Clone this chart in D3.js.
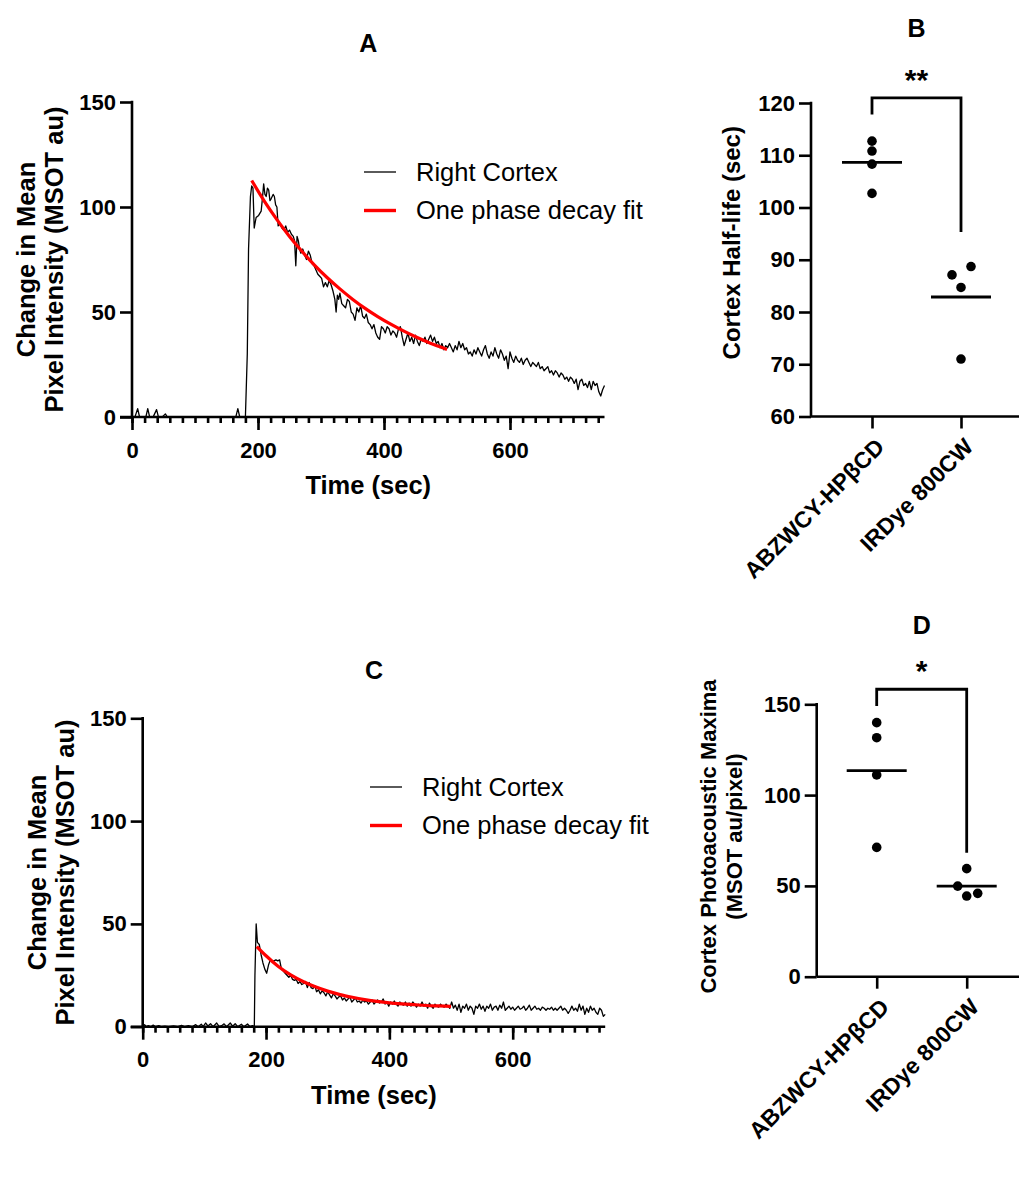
<!DOCTYPE html>
<html>
<head>
<meta charset="utf-8">
<script src="https://cdn.jsdelivr.net/npm/d3@7"></script>
<style>
  body { margin: 0; background: #fff; }
  svg { font-family: "Liberation Sans", Arial, sans-serif; }
</style>
</head>
<body>
<div id="chart"></div>
<script>
// ---- data ----
const timeTicks = [0, 200, 400, 600];
const traceTicksY = [0, 50, 100, 150];
const groups = ["ABZWCY-HPβCD", "IRDye 800CW"];

// Panel A: right cortex trace [time (s), change in intensity]
const cortexA = [[0,0],[5,0.3],[9,4],[12,0],[17,0.2],[22,0],[25,4],[28,0],[34,0.3],[39,3.5],[42,0],[48,0],[53,1.5],[56,0],[65,0],[80,0],[100,0],[120,0],[140,0],[160,0],[165,0.3],[168,4],[171,0],[176,0],[180,0],
  [183,30],[185,80],[188,105],[190,110],[192,109],[194,90],[197,95],[201,96],[205,98],[207,104],[209,111],[211,106],[213,105],[215,109],[217,108],[219,103],[221,104],[224,106],[226,105],[228,101],[230,100],[232,91],[235,92],[238,90],[241,89],[244,91],[247,88],[250,89],[253,87],[256,86],[258,84],[260,72],[262,86],[264,84],[266,80],[268,78],[271,80],[274,77],[277,75],[280,79],[283,77],[286,73],[289,72],[292,70],[295,68],[298,67],[301,66],[304,62],[307,64],[310,62],[313,65],[316,63],[319,60],[322,56],[324,50],[326,58],[328,56],[330,59],[333,54],[336,53],[339,52],[342,56],[345,55],[348,50],[351,49],[354,46],[357,52],[360,50],[363,53],[366,48],[369,47],[372,49],[375,45],[378,44],[381,42],[384,44],[387,40],[390,38],[393,37],[396,43],[399,42],[402,40],[405,43],[408,42],[411,39],[414,41],[417,40],[420,38],[423,42],[426,43],[429,38],[432,34],[435,37],[438,40],[441,36],[444,38],[447,35],[450,39],[453,36],[456,34],[459,37],[462,36],[465,38],[468,35],[471,37],[474,39],[477,36],[480,38],[483,35],[486,36],[489,33],[492,35],[495,32],[498,34],[501,33],[504,35],[507,33],[510,31],[513,34],[516,32],[519,36],[522,33],[525,35],[528,32],[531,33],[534,30],[537,31],[540,29],[543,32],[546,30],[549,33],[552,31],[555,29],[558,32],[561,34],[564,30],[567,28],[570,31],[573,29],[576,33],[579,30],[582,28],[585,32],[588,30],[591,27],[594,29],[597,23],[600,31],[603,28],[606,26],[609,29],[612,27],[615,26],[618,28],[621,25],[624,27],[627,28],[630,26],[633,24],[636,26],[639,25],[642,24],[645,26],[648,23],[651,24],[654,22],[657,23],[660,24],[663,21],[666,22],[669,20],[672,22],[675,21],[678,19],[681,21],[684,20],[687,18],[690,19],[693,17],[696,19],[699,18],[702,16],[705,18],[708,13],[711,17],[714,18],[717,15],[720,16],[723,14],[726,17],[729,13],[732,17],[735,15],[738,16],[741,12],[744,10],[747,13],[750,15]];

// Panel A: one phase decay fit
const fitA = [[190,112.6],[210,102.8],[230,94.0],[250,86.0],[270,78.8],[290,72.2],[310,66.3],[330,61.0],[350,56.1],[370,51.7],[390,47.8],[410,44.3],[430,41.1],[450,38.2],[470,35.6],[490,33.3],[500,32.2]];

// Panel C: right cortex trace
const cortexC = [[0,0],[3,1],[6,0],[9,0.5],[13,0],[17,0.8],[21,0],[26,0.5],[30,0],[36,0.3],[42,0],[50,0.4],[57,0],[63,0.6],[68,0],[74,0.5],[80,0],[86,1],[90,0],[95,1.2],[98,0],[102,1.8],[106,0.3],[110,1.5],[114,0],[120,1.8],[124,0],[128,0.5],[132,1.4],[136,0],[142,1.8],[146,0.2],[150,1.5],[154,0],[160,1.2],[164,0],[170,1.3],[174,0],[178,0.5],[181,0],
  [182,25],[184,50],[186,41],[189,40],[192,35],[195,31],[198,28],[201,26],[204,30],[207,32.5],[210,32],[213,32],[216,32.5],[219,32],[222,32.5],[225,28],[228,27],[231,26],[234,25],[237,24],[240,25],[243,23],[246,22.5],[249,23],[252,21],[255,22],[258,20.5],[261,21],[264,22],[267,19],[270,21.5],[273,19],[276,18.5],[279,20],[282,17],[285,18],[288,16],[291,17.5],[294,16.5],[297,15],[300,17],[303,15.5],[306,14],[309,16],[312,15],[315,13.5],[318,14.5],[321,15],[324,13],[327,14],[330,12.5],[333,13.5],[336,14.5],[339,12],[342,13],[345,14],[348,12],[351,12.5],[354,11.5],[357,13],[360,12],[363,12.5],[366,11],[369,12],[372,13],[375,11],[378,12],[381,13],[384,11.5],[387,12],[390,13.5],[393,11],[396,12],[399,10],[402,12],[405,11],[408,12.5],[411,11],[414,10],[417,12],[420,11],[423,10.5],[426,12],[429,10],[432,11.5],[435,10],[438,12],[441,11],[444,9.5],[447,11],[450,10],[453,12],[456,10],[459,11],[462,9],[465,11.5],[468,10],[471,9],[474,11],[477,10],[480,9.5],[483,11],[486,10],[489,9.5],[492,11],[495,10],[498,9],[501,12],[504,9],[507,10.5],[510,8],[513,11],[516,7],[519,10],[522,9],[525,11],[528,8],[531,10],[534,9],[537,6],[540,10],[543,9],[546,11],[549,8.5],[552,10],[555,7.5],[558,10],[561,9],[564,11],[567,8],[570,9.5],[573,10],[576,8],[579,10.5],[582,9],[585,12],[588,8],[591,9],[594,10],[597,8.5],[600,9.5],[603,8],[606,9],[609,10],[612,8.5],[615,9],[618,10],[621,8],[624,9],[627,10.5],[630,8],[633,9],[636,10],[639,8.5],[642,9],[645,8],[648,9.5],[651,9],[654,8],[657,9],[660,8.5],[663,9.5],[666,8],[669,9],[672,8],[675,9],[678,10],[681,8],[684,9],[687,8],[690,6.5],[693,8],[696,10],[699,8],[702,9],[705,7.5],[708,11],[711,8],[714,10],[717,6],[720,9],[723,7],[726,10],[729,8],[732,9],[735,7],[738,6],[741,9],[744,8],[747,5],[750,6]];

// Panel C: one phase decay fit
const fitC = [[185,39],[200,34.5],[220,29.3],[240,25.2],[260,22],[280,19.4],[300,17.3],[320,15.6],[340,14.3],[360,13.2],[380,12.3],[400,11.6],[420,11.1],[440,10.7],[460,10.3],[480,10.1],[500,9.9]];

// Panel B: cortex half-life (sec), one list per group
const halfLifeABZ = [112.7, 110.8, 108.3, 102.7];
const halfLifeIRD = [87.1, 88.7, 84.7, 71.0];

// Panel D: cortex photoacoustic maxima (MSOT au/pixel)
const maximaABZ = [139.9, 131.6, 111.1, 71.2];
const maximaIRD = [59.5, 49.9, 44.4, 45.9];

// ---- drawing ----
const svg = d3.select('#chart').append('svg')
    .attr('width', 1019)
    .attr('height', 1203);

const axisWidth = 2.6;

function styleAxis(g) {
  g.select('.domain').remove();
  g.selectAll('.tick line').attr('stroke', '#000').attr('stroke-width', axisWidth);
  g.selectAll('.tick text').attr('fill', '#000')
      .style('font-size', '22px').style('font-weight', 'bold');
}

function tracePanel(cfg, trace, fit) {
  const x = d3.scaleLinear().domain([0, 750]).range([cfg.left, cfg.right]);
  const y = d3.scaleLinear().domain([0, 150]).range([cfg.bottom, cfg.top]);
  const g = svg.append('g');

  // data lines
  const line = d3.line().x(d => x(d[0])).y(d => y(d[1]));
  g.append('path').datum(trace)
      .attr('d', line)
      .attr('fill', 'none')
      .attr('stroke', '#000')
      .attr('stroke-width', 1.3)
      .attr('stroke-linejoin', 'round');
  g.append('path').datum(fit)
      .attr('d', line.curve(d3.curveMonotoneX))
      .attr('fill', 'none')
      .attr('stroke', '#ff0000')
      .attr('stroke-width', 3.2);

  // minor x ticks every 20 s
  g.append('g')
      .attr('transform', `translate(0,${cfg.bottom})`)
      .call(d3.axisBottom(x).tickValues(d3.range(0, 750, 20)).tickSize(6).tickFormat(''))
      .call(styleAxis);
  // major x ticks
  g.append('g')
      .attr('transform', `translate(0,${cfg.bottom})`)
      .call(d3.axisBottom(x).tickValues(timeTicks).tickSize(13).tickPadding(12))
      .call(styleAxis);
  // y axis
  g.append('g')
      .attr('transform', `translate(${cfg.left},0)`)
      .call(d3.axisLeft(y).tickValues(traceTicksY).tickSize(12).tickPadding(4))
      .call(styleAxis);

  // axis lines
  g.append('line')
      .attr('x1', x(0) - 12).attr('x2', x(750))
      .attr('y1', y(0)).attr('y2', y(0))
      .attr('stroke', '#000').attr('stroke-width', axisWidth);
  g.append('line')
      .attr('x1', x(0)).attr('x2', x(0))
      .attr('y1', y(150) - axisWidth / 2).attr('y2', y(0))
      .attr('stroke', '#000').attr('stroke-width', axisWidth);

  // titles
  const midX = (cfg.left + cfg.right) / 2;
  const midY = (cfg.top + cfg.bottom) / 2;
  g.append('text')
      .attr('x', midX).attr('y', cfg.titleY)
      .attr('text-anchor', 'middle')
      .style('font-size', '25px').style('font-weight', 'bold')
      .text(cfg.title);
  g.append('text')
      .attr('x', midX).attr('y', cfg.bottom + 77)
      .attr('text-anchor', 'middle')
      .style('font-size', '25.5px').style('font-weight', 'bold')
      .text('Time (sec)');
  ['Change in Mean', 'Pixel Intensity (MSOT au)'].forEach((t, i) => {
    g.append('text')
        .attr('transform', `translate(${cfg.left - 97 + i * 28},${midY}) rotate(-90)`)
        .attr('text-anchor', 'middle')
        .style('font-size', '25.5px').style('font-weight', 'bold')
        .text(t);
  });

  // legend
  const legend = [
    {label: 'Right Cortex', color: '#000', width: 1.3},
    {label: 'One phase decay fit', color: '#ff0000', width: 3.4}
  ];
  legend.forEach((d, i) => {
    const ly = cfg.legendY + i * 38.5;
    g.append('line')
        .attr('x1', cfg.legendX).attr('x2', cfg.legendX + 32)
        .attr('y1', ly).attr('y2', ly)
        .attr('stroke', d.color).attr('stroke-width', d.width);
    g.append('text')
        .attr('x', cfg.legendX + 52).attr('y', ly)
        .attr('dy', '0.35em')
        .style('font-size', '25.5px')
        .text(d.label);
  });
}

function scatterPanel(cfg, values) {
  const x = d3.scalePoint().domain(groups).range([cfg.p0, cfg.p1]);
  const y = d3.scaleLinear().domain(cfg.yDomain).range([cfg.bottom, cfg.top]);
  const g = svg.append('g');

  // dots
  values.forEach((vals, gi) => {
    const cx = x(groups[gi]);
    g.selectAll(null).data(vals).join('circle')
        .attr('cx', (d, i) => cx + cfg.jitter[gi][i])
        .attr('cy', d => y(d))
        .attr('r', 4.8)
        .attr('fill', '#000');
    const m = d3.mean(vals);
    g.append('line')
        .attr('x1', cx - 30).attr('x2', cx + 30)
        .attr('y1', y(m)).attr('y2', y(m))
        .attr('stroke', '#000').attr('stroke-width', 2.8);
  });

  // axes
  g.append('g')
      .attr('transform', `translate(0,${cfg.bottom})`)
      .call(d3.axisBottom(x).tickSize(12).tickFormat(''))
      .call(styleAxis);
  g.append('g')
      .attr('transform', `translate(${cfg.left},0)`)
      .call(d3.axisLeft(y).tickValues(cfg.yTicks).tickSize(12).tickPadding(4))
      .call(styleAxis);
  g.append('line')
      .attr('x1', cfg.left).attr('x2', 1019)
      .attr('y1', cfg.bottom).attr('y2', cfg.bottom)
      .attr('stroke', '#000').attr('stroke-width', axisWidth);
  g.append('line')
      .attr('x1', cfg.left).attr('x2', cfg.left)
      .attr('y1', cfg.top - axisWidth / 2).attr('y2', cfg.bottom)
      .attr('stroke', '#000').attr('stroke-width', axisWidth);

  // category labels
  groups.forEach(name => {
    g.append('text')
        .attr('transform', `translate(${x(name) + 8},${cfg.bottom + 26}) rotate(-45)`)
        .attr('text-anchor', 'end')
        .attr('dy', '0.35em')
        .style('font-size', '23px').style('font-weight', 'bold')
        .text(name);
  });

  // significance bracket
  const [bTop, bLeft, bRight] = cfg.bracket;
  const x0 = x(groups[0]), x1 = x(groups[1]);
  g.append('path')
      .attr('d', `M${x0},${y(bLeft)}V${y(bTop)}H${x1}V${y(bRight)}`)
      .attr('fill', 'none')
      .attr('stroke', '#000').attr('stroke-width', 2.8);
  g.append('text')
      .attr('x', (x0 + x1) / 2).attr('y', y(bTop) - 8)
      .attr('text-anchor', 'middle')
      .style('font-size', '30px').style('font-weight', 'bold')
      .text(cfg.stars);

  // titles
  g.append('text')
      .attr('x', (x0 + x1) / 2).attr('y', cfg.titleY)
      .attr('text-anchor', 'middle')
      .style('font-size', '25px').style('font-weight', 'bold')
      .text(cfg.title);
  const midY = (cfg.top + cfg.bottom) / 2 + cfg.labelShift;
  cfg.yLabel.forEach((t, i) => {
    g.append('text')
        .attr('transform', `translate(${cfg.labelX + i * 26},${midY}) rotate(-90)`)
        .attr('text-anchor', 'middle')
        .style('font-size', cfg.labelSize).style('font-weight', 'bold')
        .text(t);
  });
}

tracePanel({left: 132, right: 604.5, top: 102, bottom: 417, title: 'A', titleY: 52,
            legendX: 364, legendY: 172}, cortexA, fitA);
tracePanel({left: 142.7, right: 605.2, top: 718.3, bottom: 1026.7, title: 'C', titleY: 679,
            legendX: 370, legendY: 787}, cortexC, fitC);

scatterPanel({left: 811, bottom: 416.5, top: 103, p0: 872, p1: 961,
              yDomain: [60, 120], yTicks: [60, 70, 80, 90, 100, 110, 120],
              jitter: [[0, 0, 0, 0], [-9, 10, 0, 0]],
              bracket: [121, 117.8, 95.3], stars: '**',
              title: 'B', titleY: 37,
              yLabel: ['Cortex Half-life (sec)'], labelX: 740, labelShift: -17, labelSize: '24px'},
             [halfLifeABZ, halfLifeIRD]);
scatterPanel({left: 816.7, bottom: 976.7, top: 704.3, p0: 876.7, p1: 966.7,
              yDomain: [0, 150], yTicks: [0, 50, 100, 150],
              jitter: [[0, 0, 0, 0], [0, -9, 0, 11]],
              bracket: [158.3, 149.1, 68.3], stars: '*',
              title: 'D', titleY: 634,
              yLabel: ['Cortex Photoacoustic Maxima', '(MSOT au/pixel)'], labelX: 716, labelShift: -4, labelSize: '22px'},
             [maximaABZ, maximaIRD]);
</script>
</body>
</html>
